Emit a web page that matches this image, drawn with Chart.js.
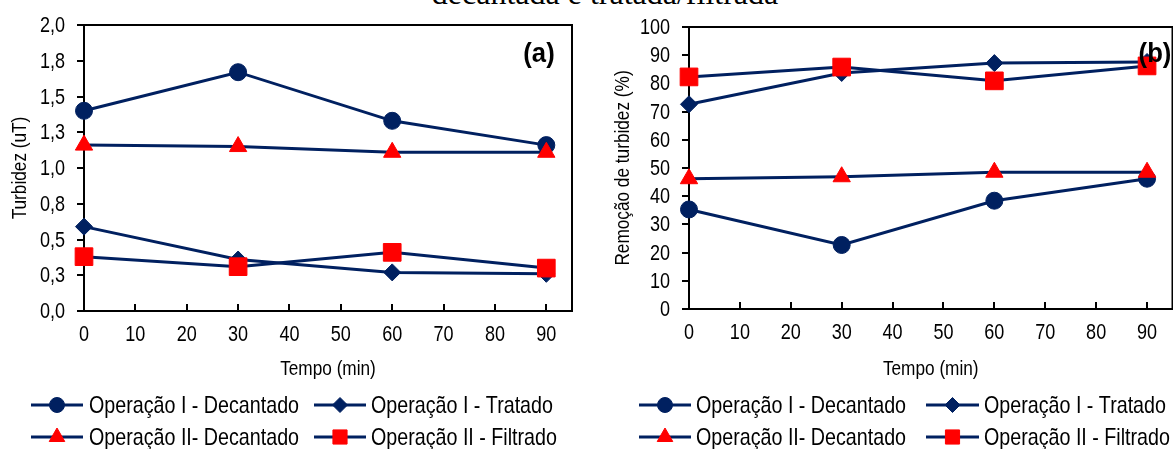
<!DOCTYPE html>
<html>
<head>
<meta charset="utf-8">
<script src="https://cdn.jsdelivr.net/npm/chart.js@4/dist/chart.umd.min.js"></script>
<style>
  html, body { margin: 0; padding: 0; width: 1173px; height: 449px; overflow: hidden; background: #fff; }
  #heading { position: absolute; left: 605px; top: -23px; transform: translateX(-50%); white-space: nowrap;
             font: 32px/32px "Liberation Serif", "Times New Roman", serif; color: #000; }
  #panelA { position: absolute; left: 0; top: 0; }
  #panelB { position: absolute; left: 586px; top: 0; }
</style>
</head>
<body>
<div id="heading">decantada e tratada/filtrada</div>
<canvas id="panelA" width="586" height="449"></canvas>
<canvas id="panelB" width="600" height="449"></canvas>
<script>
// Sampling times (min) and time-axis ticks
const timeMin = [0, 30, 60, 90];
const xTickValues = [0, 10, 20, 30, 40, 50, 60, 70, 80, 90];
const xTickLabels = ['0', '10', '20', '30', '40', '50', '60', '70', '80', '90'];

// (a) Turbidity (uT)
const turbDecantadoI  = [1.40, 1.67, 1.33, 1.16];
const turbTratadoI    = [0.59, 0.36, 0.27, 0.26];
const turbDecantadoII = [1.16, 1.15, 1.11, 1.11];
const turbFiltradoII  = [0.38, 0.31, 0.41, 0.30];
const yTickValuesA = [0, 0.25, 0.5, 0.75, 1, 1.25, 1.5, 1.75, 2];
const yTickLabelsA = ['0,0', '0,3', '0,5', '0,8', '1,0', '1,3', '1,5', '1,8', '2,0'];

// (b) Turbidity removal (%)
const remDecantadoI  = [35.3, 22.7, 38.4, 46.2];
const remTratadoI    = [72.6, 83.7, 87.2, 87.6];
const remDecantadoII = [46.2, 46.9, 48.5, 48.5];
const remFiltradoII  = [82.3, 85.8, 80.9, 86.2];
const yTickValuesB = [0, 10, 20, 30, 40, 50, 60, 70, 80, 90, 100];
const yTickLabelsB = ['0', '10', '20', '30', '40', '50', '60', '70', '80', '90', '100'];

const seriesNames = ['Operação I - Decantado', 'Operação I - Tratado', 'Operação II- Decantado', 'Operação II - Filtrado'];

const NAVY = '#002060';
const RED = '#ff0000';
const SANS = '"Liberation Sans", Arial, sans-serif';
const NARROW_X = 0.82;   // horizontal squeeze giving a narrow sans face

// marker look of each series: [style, chart radius, legend radius, colour]
const markerSpec = [
  ['circle',   8.5, 7.5, NAVY],
  ['rectRot',  8.5, 7.5, NAVY],
  ['triangle', 10,  9,   RED],
  ['rect',     12.5, 10, RED]
];

function makeDatasets(seriesValues) {
  return seriesValues.map((vals, i) => {
    const [style, r, , col] = markerSpec[i];
    return {
      label: seriesNames[i],
      data: timeMin.map((t, k) => ({ x: t, y: vals[k] })),
      borderColor: NAVY,
      borderWidth: 3,
      pointStyle: style,
      pointRadius: r,
      pointHoverRadius: r,
      pointBackgroundColor: col,
      pointBorderColor: col,
      pointBorderWidth: 1,
      tension: 0,
      clip: false,
      order: 3 - i
    };
  });
}

// text squeezed horizontally around its anchor point
function narrowText(ctx, text, x, y, align, font, rot, sx) {
  ctx.save();
  ctx.translate(x, y);
  if (rot) ctx.rotate(rot);
  ctx.scale(sx || NARROW_X, 1);
  ctx.font = font;
  ctx.textAlign = align;
  ctx.textBaseline = 'middle';
  ctx.fillStyle = '#000';
  ctx.fillText(text, 0, 0);
  ctx.restore();
}

// Frame, inward time ticks, axis texts, panel letter and a line+marker legend
const panelDecor = {
  id: 'panelDecor',
  beforeDatasetsDraw(chart) {
    const { ctx, chartArea: a } = chart;
    const xs = chart.scales.x;
    ctx.save();
    ctx.strokeStyle = '#000';
    ctx.lineWidth = 2;
    ctx.strokeRect(a.left, a.top, a.right - a.left, a.bottom - a.top);
    ctx.beginPath();
    xs.ticks.forEach(t => {
      if (t.value > xs.min) {
        const px = Math.round(xs.getPixelForValue(t.value));
        ctx.moveTo(px, a.bottom);
        ctx.lineTo(px, a.bottom - 7);
      }
    });
    ctx.stroke();
    ctx.restore();
  },
  afterDraw(chart, args, opts) {
    const { ctx, chartArea: a } = chart;
    const xs = chart.scales.x, ys = chart.scales.y;
    const tickFont = '22px ' + SANS;

    // tick labels
    xs.ticks.forEach((t, i) => {
      narrowText(ctx, opts.xLabels[i], xs.getPixelForValue(t.value), a.bottom + opts.xLabelDy, 'center', tickFont);
    });
    ys.ticks.forEach((t, i) => {
      narrowText(ctx, opts.yLabels[i], a.left - opts.yLabelGap, ys.getPixelForValue(t.value) + 1, 'right', tickFont);
    });

    // axis titles
    narrowText(ctx, opts.xTitle, (a.left + a.right) / 2, opts.xTitleY, 'center', '21px ' + SANS);
    narrowText(ctx, opts.yTitle, opts.yTitleX, (a.top + a.bottom) / 2, 'center', '21px ' + SANS, -Math.PI / 2);

    // panel letter
    narrowText(ctx, opts.letter, opts.letterX, opts.letterY, 'center', 'bold 27px ' + SANS, 0, 0.95);

    // legend
    chart.data.datasets.forEach((ds, i) => {
      const slot = opts.slots[i];
      const y = opts.rows[slot[0]];
      const [x1, x2, tx] = opts.cols[slot[1]];
      ctx.save();
      ctx.strokeStyle = NAVY;
      ctx.lineWidth = 3;
      ctx.beginPath();
      ctx.moveTo(x1, y);
      ctx.lineTo(x2, y);
      ctx.stroke();
      const [style, , lr, col] = markerSpec[i];
      ctx.fillStyle = col;
      ctx.strokeStyle = col;
      ctx.lineWidth = 1;
      Chart.helpers.drawPoint(ctx, { pointStyle: style, radius: lr, rotation: 0, borderWidth: 1 }, (x1 + x2) / 2, y);
      ctx.restore();
      narrowText(ctx, ds.label, tx, y + 1, 'left', '24px ' + SANS);
    });
  }
};

function makeChart(canvasId, seriesValues, yTicks, yLabels, cfg) {
  return new Chart(document.getElementById(canvasId), {
    type: 'line',
    data: { datasets: makeDatasets(seriesValues) },
    plugins: [panelDecor],
    options: {
      responsive: false,
      animation: false,
      devicePixelRatio: 1,
      layout: { padding: { left: 0, top: cfg.top, right: cfg.right, bottom: 67 } },
      plugins: {
        legend: { display: false },
        tooltip: { enabled: false },
        panelDecor: {
          xLabels: xTickLabels, yLabels: yLabels,
          xLabelDy: 24, yLabelGap: 19,
          xTitle: 'Tempo (min)', xTitleY: 369,
          yTitle: cfg.yTitle, yTitleX: cfg.yTitleX,
          letter: cfg.letter, letterX: cfg.letterX, letterY: cfg.letterY,
          rows: [405, 437],
          cols: cfg.cols,
          slots: [[0, 0], [0, 1], [1, 0], [1, 1]]
        }
      },
      scales: {
        x: {
          type: 'linear',
          min: 0,
          max: 95,
          afterBuildTicks: s => { s.ticks = xTickValues.map(v => ({ value: v })); },
          afterFit: s => { s.height = cfg.xAxisHeight; },
          grid: { display: false, drawTicks: false },
          border: { display: true, color: '#000', width: 2 },
          ticks: { display: false }
        },
        y: {
          type: 'linear',
          min: yTicks[0],
          max: yTicks[yTicks.length - 1],
          afterBuildTicks: s => { s.ticks = yTicks.map(v => ({ value: v })); },
          afterFit: s => { s.width = cfg.yAxisWidth; },
          grid: { display: true, drawOnChartArea: false, drawTicks: true, tickLength: 7, color: '#000', lineWidth: 2 },
          border: { display: true, color: '#000', width: 2 },
          ticks: { display: false }
        }
      }
    }
  });
}

makeChart('panelA',
  [turbDecantadoI, turbTratadoI, turbDecantadoII, turbFiltradoII],
  yTickValuesA, yTickLabelsA,
  {
    top: 25, right: 14, xAxisHeight: 71, yAxisWidth: 84,
    yTitle: 'Turbidez (uT)', yTitleX: 20,
    letter: '(a)', letterX: 539, letterY: 55,
    cols: [[31, 83, 89], [314, 366, 371]]
  });

makeChart('panelB',
  [remDecantadoI, remTratadoI, remDecantadoII, remFiltradoII],
  yTickValuesB, yTickLabelsB,
  {
    top: 27, right: 9, xAxisHeight: 73, yAxisWidth: 103,
    yTitle: 'Remoção de turbidez (%)', yTitleX: 37,
    letter: '(b)', letterX: 569, letterY: 55,
    cols: [[53, 105, 110], [340, 393, 398]]
  });
</script>
</body>
</html>
